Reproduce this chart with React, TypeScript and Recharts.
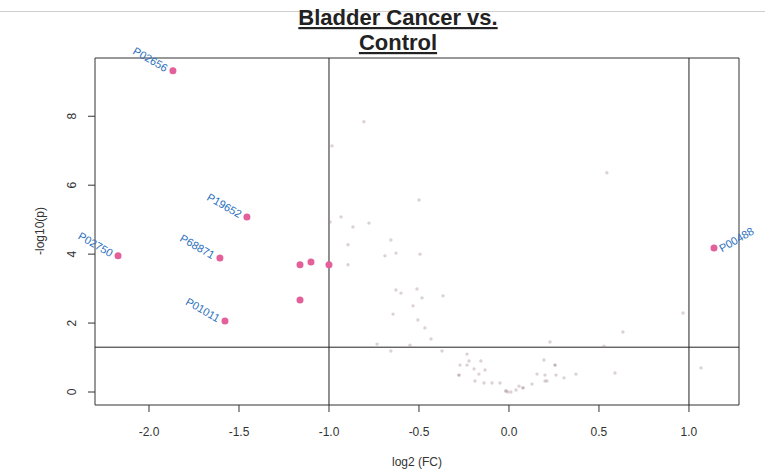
import React from "react";
import {
  ScatterChart,
  Scatter,
  XAxis,
  YAxis,
  ReferenceLine,
  ReferenceArea,
} from "recharts";

// significant proteins (pink, labelled)
const sigNames = ["P02656", "P19652", "P68871", "P02750", "P01011", "", "", "", "", "P00488"];
const sigX = [-1.867, -1.456, -1.606, -2.172, -1.578, -1.161, -1.1, -1.0, -1.161, 1.139];
const sigY = [9.32, 5.08, 3.89, 3.95, 2.06, 3.69, 3.77, 3.69, 2.67, 4.18];

// non-significant proteins (faint grey)
const nsX = [
  -0.806, -0.983, -0.5, -0.994, -0.933, -0.867, -0.778, -0.656, -0.894, -0.689,
  -0.628, -0.494, -0.894, -0.628, -0.6, -0.511, -0.483, -0.367, -0.533, -0.644,
  -0.506, -0.467, -0.433, -0.733, -0.55, -0.656, -0.372, -0.233, 0.228, 0.528,
  0.194, 0.256, 0.256, -0.272, -0.233, -0.222, -0.156, -0.194, -0.133, -0.278,
  -0.278, -0.167, 0.156, 0.2, 0.261, 0.372, 0.589, 0.306, -0.189, -0.139,
  -0.094, -0.05, 0.2, 0.211, 0.128, 0.078, 0.078, 0.056, -0.017, -0.017,
  -0.006, 0.011, 0.039, 0.544, 0.967, 0.633, 1.067,
];
const nsY = [
  7.84, 7.14, 5.57, 4.93, 5.08, 4.79, 4.9, 4.41, 4.27, 3.95,
  4.03, 4.0, 3.69, 2.96, 2.87, 2.99, 2.73, 2.79, 2.5, 2.26,
  2.09, 1.86, 1.54, 1.39, 1.36, 1.19, 1.19, 1.1, 1.45, 1.33,
  0.93, 0.78, 0.78, 0.78, 0.78, 0.9, 0.9, 0.67, 0.64, 0.49,
  0.49, 0.52, 0.52, 0.49, 0.49, 0.52, 0.55, 0.41, 0.32, 0.26,
  0.26, 0.26, 0.32, 0.32, 0.23, 0.12, 0.12, 0.17, 0.03, 0.03,
  0.0, 0.0, 0.06, 6.36, 2.29, 1.74, 0.7,
];

const xTicks = [-2, -1.5, -1, -0.5, 0, 0.5, 1];
const yTicks = [0, 2, 4, 6, 8];
const xDomain: [number, number] = [-2.3, 1.278];
const yDomain: [number, number] = [-0.377, 9.69];

const FONT = "'Liberation Sans', Arial, sans-serif";
const BLUE = "#2a6fbe";
const PINK = "#e4609a";

const sigData = sigX.map((x, i) => ({ x, y: sigY[i], name: sigNames[i] }));
const nsData = nsX.map((x, i) => ({ x, y: nsY[i] }));

function SigDot(props: any) {
  const { cx, cy, payload } = props;
  const name = payload?.name;
  const right = payload?.x > 0;
  const tx = right ? cx + 6 : cx - 6;
  const ty = right ? cy + 1 : cy - 2;
  return (
    <g>
      <circle cx={cx} cy={cy} r={3.5} fill={PINK} />
      {name && (
        <text
          x={tx}
          y={ty}
          textAnchor={right ? "start" : "end"}
          dominantBaseline="central"
          fontSize={11}
          fontFamily={FONT}
          fill={BLUE}
          transform={`rotate(${right ? -30 : 30}, ${tx}, ${ty})`}
        >
          {name}
        </text>
      )}
    </g>
  );
}

function GreyDot(props: any) {
  const { cx, cy } = props;
  return <circle cx={cx} cy={cy} r={1.7} fill="#a88c95" fillOpacity={0.4} />;
}

function XTick(props: any) {
  const { x, y, payload } = props;
  return (
    <text x={x} y={y + 20} textAnchor="middle" dominantBaseline="central" fontSize={12} fontFamily={FONT} fill="#333">
      {Number(payload.value).toFixed(1)}
    </text>
  );
}

function LeftTick(props: any) {
  const { x, y, payload } = props;
  const tx = x - 16;
  return (
    <text x={tx} y={y} textAnchor="middle" dominantBaseline="central" fontSize={12} fontFamily={FONT} fill="#333" transform={`rotate(-90, ${tx}, ${y})`}>
      {payload.value}
    </text>
  );
}

function RightTick(props: any) {
  const { x, y, payload } = props;
  const tx = x + 15;
  return (
    <text x={tx} y={y} textAnchor="middle" dominantBaseline="central" fontSize={12} fontFamily={FONT} fill="#333" transform={`rotate(-90, ${tx}, ${y})`}>
      {payload.value}
    </text>
  );
}

export default function App() {
  return (
    <div style={{ position: "absolute", left: 0, top: 0, width: 765, height: 475, background: "#fff" }}>
      <ScatterChart width={765} height={475} margin={{ top: 58, right: 0, bottom: 0, left: 0 }}>
        <XAxis
          type="number"
          dataKey="x"
          domain={xDomain}
          ticks={xTicks}
          interval={0}
          height={70}
          axisLine={false}
          tickSize={7}
          tickMargin={0}
          tickLine={{ stroke: "#333" }}
          tick={<XTick />}
        />
        <YAxis
          yAxisId="left"
          type="number"
          dataKey="y"
          domain={yDomain}
          ticks={yTicks}
          interval={0}
          width={95}
          axisLine={false}
          tickSize={7}
          tickMargin={0}
          tickLine={{ stroke: "#333" }}
          tick={<LeftTick />}
        />
        <YAxis
          yAxisId="right"
          orientation="right"
          type="number"
          dataKey="y"
          domain={yDomain}
          ticks={yTicks}
          interval={0}
          width={26}
          axisLine={false}
          tickSize={7}
          tickMargin={0}
          tickLine={{ stroke: "#333" }}
          tick={<RightTick />}
        />
        <ReferenceArea
          yAxisId="left"
          x1={xDomain[0]}
          x2={xDomain[1]}
          y1={yDomain[0]}
          y2={yDomain[1]}
          fill="none"
          stroke="#333"
          strokeWidth={1}
          ifOverflow="visible"
        />
        <ReferenceLine yAxisId="left" x={-1} stroke="#222" strokeWidth={1} />
        <ReferenceLine yAxisId="left" x={1} stroke="#222" strokeWidth={1} />
        <ReferenceLine yAxisId="left" y={1.3} stroke="#222" strokeWidth={1} />
        <Scatter yAxisId="left" data={nsData} shape={<GreyDot />} isAnimationActive={false} />
        <Scatter yAxisId="right" data={[]} isAnimationActive={false} />
        <Scatter yAxisId="left" data={sigData} shape={<SigDot />} isAnimationActive={false} />
      </ScatterChart>
      <svg
        width={765}
        height={475}
        style={{ position: "absolute", left: 0, top: 0, pointerEvents: "none" }}
      >
        <line x1={0} x2={765} y1={11.5} y2={11.5} stroke="#cfcfcf" strokeWidth={1} />
        <text x={398} y={25} textAnchor="middle" fontSize={22} fontWeight="bold" fontFamily={FONT} fill="#222" textDecoration="underline">
          Bladder Cancer vs.
        </text>
        <text x={398} y={50} textAnchor="middle" fontSize={22} fontWeight="bold" fontFamily={FONT} fill="#222" textDecoration="underline">
          Control
        </text>
        <text x={417} y={462} textAnchor="middle" dominantBaseline="central" fontSize={12} fontFamily={FONT} fill="#333">
          log2 (FC)
        </text>
        <text x={40} y={231} textAnchor="middle" dominantBaseline="central" fontSize={12} fontFamily={FONT} fill="#333" transform="rotate(-90, 40, 231)">
          -log10(p)
        </text>
      </svg>
    </div>
  );
}
